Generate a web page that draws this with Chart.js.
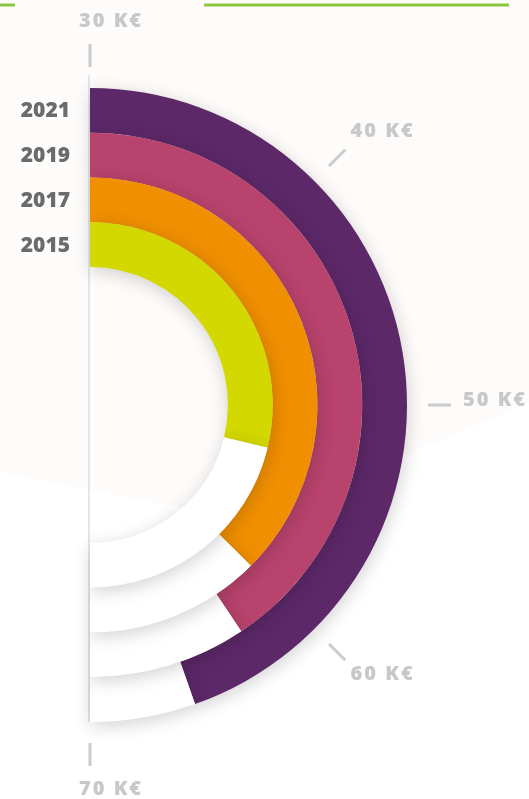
<!DOCTYPE html>
<html>
<head>
<meta charset="utf-8">
<script src="https://cdn.jsdelivr.net/npm/chart.js@4.4.1/dist/chart.umd.min.js"></script>
<style>
  html, body { margin: 0; padding: 0; background: #fff; }
  .wrap { position: relative; width: 529px; height: 799px; }
</style>
</head>
<body>
<div class="wrap"><canvas id="salaryChart" width="529" height="799"></canvas></div>
<script>
// salary per year, in K€ (scale goes 30 -> 70 over a half turn)
const years = ['2021', '2019', '2017', '2015'];
const salaries = [65.7, 62.5, 60, 53];
const scaleMin = 30;
const scaleMax = 70;
const tickValues = [30, 40, 50, 60, 70];
const ringColors = ['#5c2868', '#b8436d', '#f08f00', '#d3d800'];

const ctx = document.getElementById('salaryChart').getContext('2d');

// cream backdrop, green rule, axis line
const backdrop = {
  id: 'backdrop',
  beforeDraw(chart) {
    const c = chart.ctx;
    c.save();
    c.fillStyle = '#ffffff';
    c.fillRect(0, 0, chart.width, chart.height);
    c.fillStyle = '#fdfcfa';
    c.beginPath();
    c.moveTo(0, 0);
    c.lineTo(529, 0);
    c.lineTo(529, 403);
    c.lineTo(247, 521);
    c.lineTo(0, 472);
    c.closePath();
    c.fill();
    c.strokeStyle = '#8cc63f';
    c.lineWidth = 3;
    c.beginPath();
    c.moveTo(204, 5); c.lineTo(509, 5);
    c.moveTo(0, 5); c.lineTo(15, 5);
    c.stroke();
    c.restore();
  },
  beforeDatasetsDraw(chart) {
    const arc = chart.getDatasetMeta(0).data[0];
    const c = chart.ctx;
    c.save();
    c.strokeStyle = '#e2e6eb';
    c.lineWidth = 2;
    c.beginPath();
    c.moveTo(arc.x - 1, arc.y - arc.outerRadius - 13);
    c.lineTo(arc.x - 1, arc.y + arc.outerRadius);
    c.stroke();
    c.restore();
  }
};

// soft drop shadow under each ring
const ringShadow = {
  id: 'ringShadow',
  beforeDatasetDraw(chart) {
    const c = chart.ctx;
    c.save();
    c.shadowColor = 'rgba(0,0,0,0.18)';
    c.shadowBlur = 18;
    c.shadowOffsetX = 1;
    c.shadowOffsetY = 4;
  },
  afterDatasetDraw(chart) {
    chart.ctx.restore();
  }
};

// tick marks + K€ labels around the ring, and year labels
const labels = {
  id: 'labels',
  afterDatasetsDraw(chart) {
    const outer = chart.getDatasetMeta(0).data[0];
    const cx = outer.x, cy = outer.y;
    const c = chart.ctx;
    c.save();
    c.strokeStyle = '#cbcbcb';
    c.lineWidth = 3;
    c.fillStyle = '#c8c8c8';
    c.font = '800 20px "Open Sans"';
    c.letterSpacing = '2px';
    c.textAlign = 'left';
    c.textBaseline = 'middle';
    tickValues.forEach(v => {
      const a = (v - scaleMin) / (scaleMax - scaleMin) * Math.PI;
      const sx = Math.sin(a), sy = -Math.cos(a);
      c.beginPath();
      c.moveTo(cx + sx * 338, cy + sy * 338);
      c.lineTo(cx + sx * 361, cy + sy * 361);
      c.stroke();
      c.fillText(v + ' K€', cx + sx * 384 - 11, cy + sy * 384 - 5 * sx * sx);
    });
    c.letterSpacing = '0px';
    c.fillStyle = '#6b6b6b';
    c.font = '800 21px "Open Sans"';
    c.textAlign = 'right';
    years.forEach((y, i) => {
      const arc = chart.getDatasetMeta(i).data[0];
      const mid = (arc.innerRadius + arc.outerRadius) / 2;
      c.fillText(y, 70, cy - mid + 1);
    });
    c.restore();
  }
};

new Chart(ctx, {
  type: 'doughnut',
  data: {
    labels: ['value', 'rest'],
    datasets: years.map((y, i) => ({
      label: y,
      data: [salaries[i] - scaleMin, scaleMax - salaries[i]],
      backgroundColor: [ringColors[i], '#ffffff'],
      borderWidth: 0,
      order: years.length - i,
      clip: false
    }))
  },
  options: {
    responsive: false,
    animation: false,
    rotation: 0,
    circumference: 180,
    radius: 317,
    cutout: '43.5%',
    layout: { padding: { left: 0, right: 32, top: 11, bottom: 0 } },
    plugins: {
      legend: { display: false },
      tooltip: { enabled: false }
    }
  },
  plugins: [backdrop, ringShadow, labels]
});
</script>
</body>
</html>
